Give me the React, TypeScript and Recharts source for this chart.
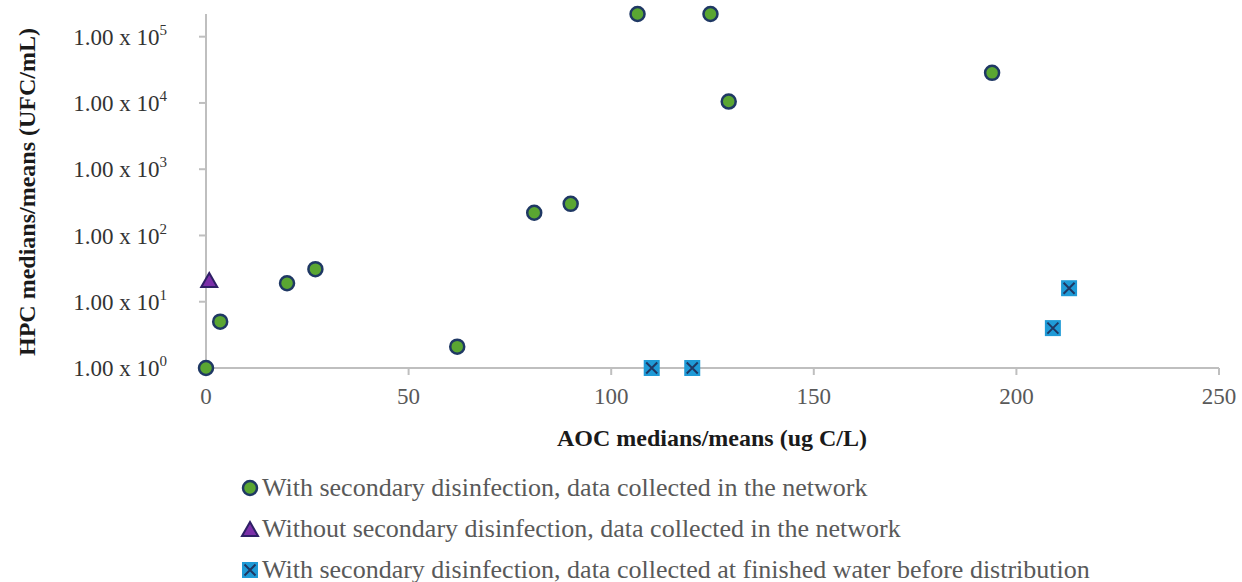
import { ScatterChart, Scatter, XAxis, YAxis } from 'recharts';

// AOC (ug C/L) vs HPC (UFC/mL)
const networkAoc = [0, 3.5, 20, 27, 62, 81, 90, 106.5, 124.5, 129, 194];
const networkHpc = [1, 5, 19, 31, 2.1, 220, 300, 220000, 220000, 10500, 28500];
const noDisinfAoc = [0.8];
const noDisinfHpc = [20.5];
const finishedAoc = [110, 120, 209, 213];
const finishedHpc = [1, 1, 4, 16];

const xTicks = [0, 50, 100, 150, 200, 250];
const yExponents = [0, 1, 2, 3, 4, 5];
const legendLabels = [
    'With secondary disinfection, data collected in the network',
    'Without secondary disinfection, data collected in the network',
    'With secondary disinfection, data collected at finished water before distribution'
];

const zip = (xs: number[], ys: number[]) => xs.map((aoc, i) => ({ aoc, hpc: ys[i] }));
const networkData = zip(networkAoc, networkHpc);
const noDisinfData = zip(noDisinfAoc, noDisinfHpc);
const finishedData = zip(finishedAoc, finishedHpc);

const FONT = '"Liberation Serif", "Times New Roman", serif';
const GRAY = '#bfbfbf';
const TEXT = '#595959';
const NAVY = '#1f3864';

const Circle = ({ cx, cy }: any) => (
    <circle cx={cx} cy={cy} r={7} fill="#5aa632" stroke={NAVY} strokeWidth={2.5} />
);
const Triangle = ({ cx, cy }: any) => (
    <path d={`M${cx},${cy - 8} L${cx + 8},${cy + 6} L${cx - 8},${cy + 6} Z`} fill="#7b2fa8" stroke="#2e1f66" strokeWidth={2} />
);
const CrossBox = ({ cx, cy }: any) => (
    <g>
        <rect x={cx - 8} y={cy - 8} width={16} height={16} fill="#1f9ad6" />
        <path d={`M${cx - 5.5},${cy - 5.5} L${cx + 5.5},${cy + 5.5} M${cx + 5.5},${cy - 5.5} L${cx - 5.5},${cy + 5.5}`} stroke={NAVY} strokeWidth={2} />
    </g>
);

const YTick = ({ x, y, index }: any) => (
    <text x={x} y={y} dy="0.35em" textAnchor="end" fill="#333" fontSize={23} fontFamily={FONT}>
        1.00 x 10
        <tspan fontSize={15} dy={-10}>{yExponents[index]}</tspan>
    </text>
);

export default function App() {
    return (
        <div style={{ position: 'relative', width: 1242, height: 582, background: '#fff', fontFamily: FONT }}>
            <style>{'body{margin:0}'}</style>
            <ScatterChart width={1242} height={455} margin={{ top: 14, right: 23, left: 0, bottom: 0 }}>
                <XAxis
                    type="number"
                    dataKey="aoc"
                    domain={[0, 250]}
                    ticks={xTicks}
                    height={87}
                    stroke={GRAY}
                    strokeWidth={2}
                    tickSize={7}
                    tickMargin={13}
                    tick={{ fill: TEXT, fontSize: 23, fontFamily: FONT }}
                    label={{
                        content: () => (
                            <text x={712} y={446} textAnchor="middle" fontSize={24} fontWeight="bold" fontFamily={FONT} fill="#1a1a1a">
                                AOC medians/means (ug C/L)
                            </text>
                        )
                    }}
                />
                <YAxis
                    type="number"
                    dataKey="hpc"
                    scale="log"
                    domain={[1, 220000]}
                    ticks={[1, 10, 100, 1000, 10000, 100000]}
                    width={206}
                    stroke={GRAY}
                    strokeWidth={2}
                    tickSize={7}
                    tickMargin={32}
                    tick={<YTick />}
                    label={{
                        content: () => (
                            <text x={0} y={0} transform="translate(35,192) rotate(-90)" textAnchor="middle" fontSize={24} fontWeight="bold" fontFamily={FONT} fill="#1a1a1a">
                                HPC medians/means (UFC/mL)
                            </text>
                        )
                    }}
                />
                <Scatter data={networkData} shape={<Circle />} isAnimationActive={false} />
                <Scatter data={noDisinfData} shape={<Triangle />} isAnimationActive={false} />
                <Scatter data={finishedData} shape={<CrossBox />} isAnimationActive={false} />
            </ScatterChart>
            {legendLabels.map((label, i) => (
                <div key={label} style={{ position: 'absolute', left: 240, top: 472 + i * 41, height: 32, display: 'flex', alignItems: 'center', color: TEXT, fontSize: 26, whiteSpace: 'nowrap' }}>
                    <svg width={20} height={20} style={{ marginRight: 2 }}>
                        {i === 0 && <Circle cx={10} cy={10} />}
                        {i === 1 && <Triangle cx={10} cy={11} />}
                        {i === 2 && <CrossBox cx={10} cy={10} />}
                    </svg>
                    {label}
                </div>
            ))}
        </div>
    );
}
